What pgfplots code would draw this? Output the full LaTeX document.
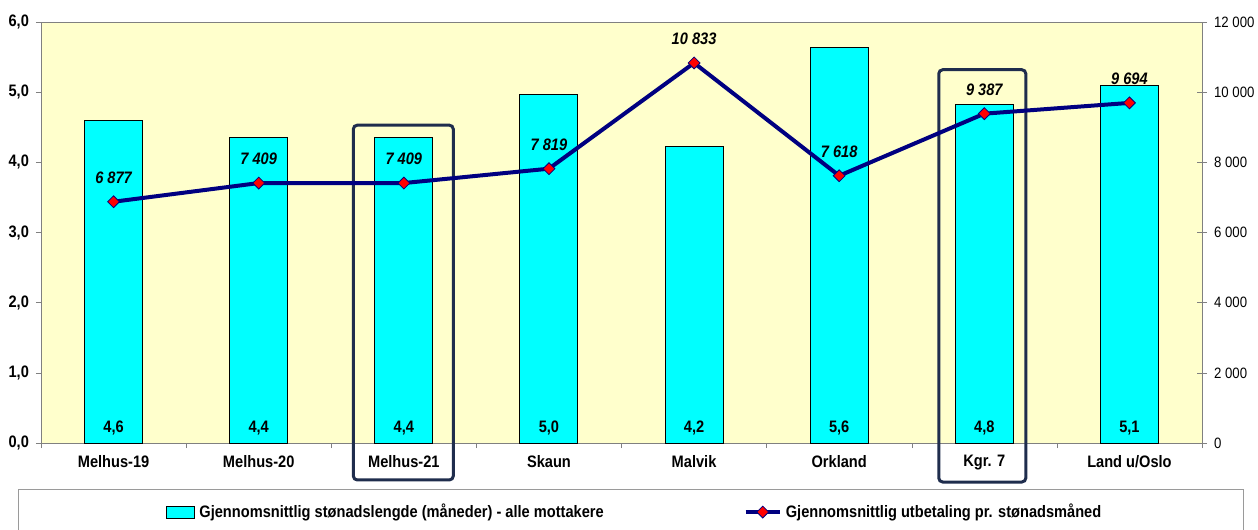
\documentclass[border=0pt]{standalone}
\usepackage{fontspec}
\setmainfont{Liberation Sans}[FakeStretch=0.88]
\usepackage{pgfplots}
\pgfplotsset{compat=1.18}
\usepackage{pgfplotstable}

\definecolor{plotbg}{RGB}{255,255,204}
\definecolor{barcyan}{RGB}{0,255,255}
\definecolor{navyline}{RGB}{0,0,128}
\definecolor{hlbox}{RGB}{31,45,77}
\definecolor{axgray}{RGB}{128,128,128}

\newcommand\fs{\fontsize{8.3}{10}\selectfont}
\newcommand\fsr{\fontsize{7.5}{9}\selectfont}

% bar = average length (months), pay = average payment per month
\pgfplotstableread[col sep=semicolon]{
x;len;lenlab;pay;paylab
0;4.60;4,6;6877;6 877
1;4.36;4,4;7409;7 409
2;4.36;4,4;7409;7 409
3;4.97;5,0;7819;7 819
4;4.23;4,2;10833;10 833
5;5.63;5,6;7618;7 618
6;4.82;4,8;9387;9 387
7;5.09;5,1;9694;9 694
}\data

\begin{document}
\begin{tikzpicture}
\begin{axis}[
    name=ax,
    scale only axis, width=580.5pt, height=210.5pt,
    xmin=-0.5, xmax=7.5, ymin=0, ymax=6,
    clip=false,
    axis background/.style={fill=plotbg},
    axis line style={axgray},
    xtick={0,...,7},
    xticklabels={Melhus-19,Melhus-20,Melhus-21,Skaun,Malvik,Orkland,Kgr. 7,Land u/Oslo},
    minor xtick={-0.5,0.5,...,7.5},
    major x tick style={draw=none},
    minor x tick style={axgray},
    minor tick length=2.5pt,
    ytick={0,...,6},
    ytick pos=left, xtick pos=bottom,
    tick align=outside, major tick length=2.5pt,
    y tick style={axgray},
    ticklabel style={font=\fs\bfseries},
    /pgf/number format/fixed,
    /pgf/number format/fixed zerofill,
    /pgf/number format/precision=1,
    /pgf/number format/use comma,
    /pgf/number format/assume math mode=true,
]
\addplot[ybar, bar width=0.4, fill=barcyan, draw=black, line width=0.5pt]
    table[x=x, y=len] {\data};
\addplot[draw=none, nodes near coords, point meta=explicit symbolic,
    every node near coord/.append style={anchor=base, inner sep=0pt, font=\fs\bfseries, text=black}]
    table[x=x, y expr=0.147, meta=lenlab] {\data};
% highlight boxes
\draw[hlbox, line width=1.5pt, rounded corners=2pt] (axis cs:1.652,-0.527) rectangle (axis cs:2.341,4.53);
\draw[hlbox, line width=1.5pt, rounded corners=2pt] (axis cs:5.686,-0.556) rectangle (axis cs:6.286,5.32);
% legend frame
\draw[axgray!80, line width=0.5pt] (axis cs:-0.652,-0.656) rectangle (axis cs:7.783,-1.5);
\end{axis}

\begin{axis}[
    scale only axis, width=580.5pt, height=210.5pt,
    xmin=-0.5, xmax=7.5, ymin=0, ymax=12000,
    clip=false,
    axis y line*=right, axis x line=none,
    axis line style={axgray},
    ytick={0,2000,...,12000},
    yticklabels={0,2~000,4~000,6~000,8~000,10~000,12~000},
    scaled y ticks=false,
    tick align=center, major tick length=5pt,
    y tick style={axgray},
    yticklabel style={font=\fsr},
    legend columns=2,
    legend style={draw=none, fill=none, at={(0.1077,-0.164)}, anchor=west,
        font=\fs\bfseries, inner sep=0pt,
        /tikz/every even column/.append style={column sep=68pt}},
    legend cell align=left,
]
\addlegendimage{legend image code/.code={\draw[fill=barcyan, draw=black, line width=0.5pt] (0pt,-3pt) rectangle (14pt,3pt);}}
\addlegendentry{Gjennomsnittlig stønadslengde (måneder) - alle mottakere}
\addplot[navyline, line width=2pt, mark=square*, mark size=2.1pt,
    mark options={rotate=45, fill=red, draw=navyline, line width=0.4pt},
    nodes near coords, point meta=explicit symbolic,
    every node near coord/.append style={anchor=south, inner sep=0pt, yshift=9pt,
        font=\fs\bfseries\itshape, text=black}]
    table[x=x, y=pay, meta=paylab] {\data};
\addlegendentry{Gjennomsnittlig utbetaling pr. stønadsmåned}
\end{axis}

\pgfresetboundingbox
\path[use as bounding box] ([xshift=-20.5pt, yshift=-43pt]ax.south west)
    rectangle ([xshift=28pt, yshift=11pt]ax.north east);
\end{tikzpicture}
\end{document}
